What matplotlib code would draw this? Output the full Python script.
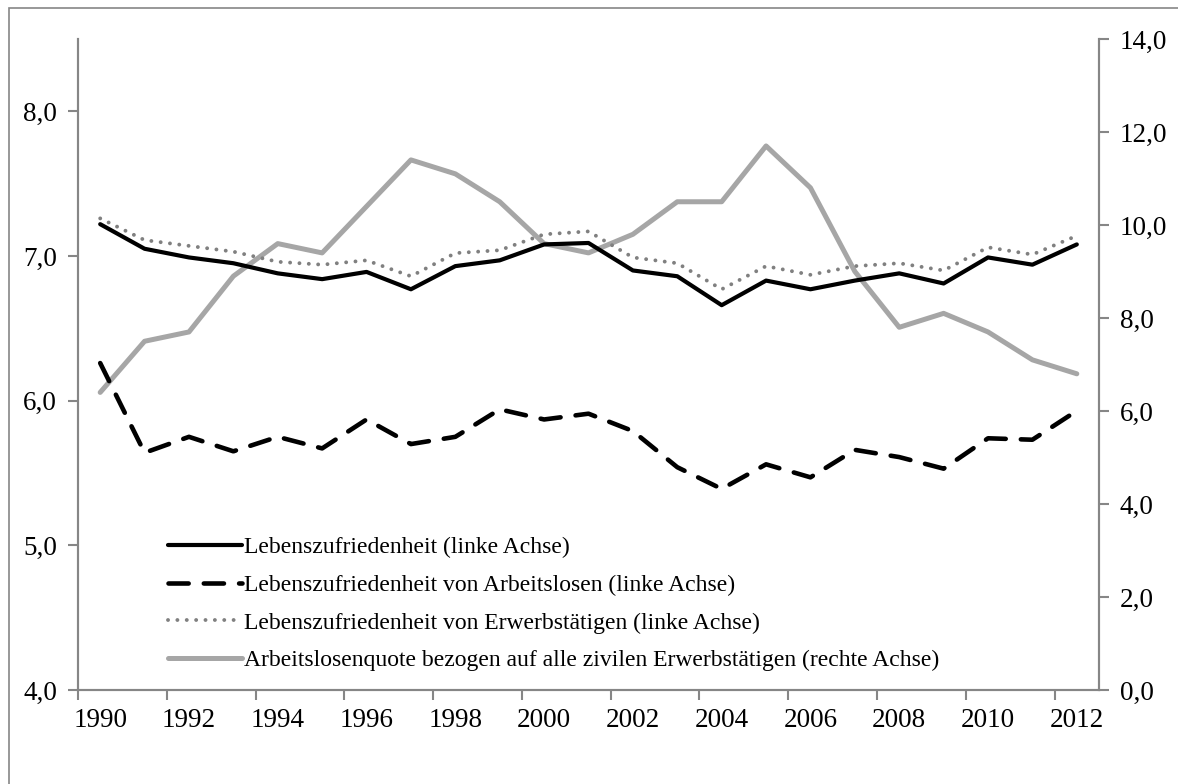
import matplotlib.pyplot as plt
from matplotlib.patches import Rectangle
from matplotlib.ticker import FuncFormatter

plt.rcParams['font.family'] = ['Liberation Serif', 'DejaVu Serif']

# --- Data ---
years = list(range(1990, 2013))

zufriedenheit = [7.22, 7.05, 6.99, 6.95, 6.88, 6.84, 6.89, 6.77, 6.93, 6.97, 7.08, 7.09,
                 6.90, 6.86, 6.66, 6.83, 6.77, 6.83, 6.88, 6.81, 6.99, 6.94, 7.08]
zufr_arbeitslose = [6.26, 5.64, 5.75, 5.65, 5.75, 5.67, 5.87, 5.70, 5.75, 5.94, 5.87, 5.91,
                    5.79, 5.54, 5.39, 5.56, 5.47, 5.66, 5.61, 5.53, 5.74, 5.73, 5.93]
zufr_erwerbstaetige = [7.26, 7.11, 7.07, 7.03, 6.96, 6.94, 6.97, 6.86, 7.02, 7.04, 7.15, 7.17,
                       6.99, 6.95, 6.77, 6.93, 6.87, 6.93, 6.95, 6.90, 7.06, 7.01, 7.14]
quote = [6.4, 7.5, 7.7, 8.9, 9.6, 9.4, 10.4, 11.4, 11.1, 10.5, 9.6, 9.4,
         9.8, 10.5, 10.5, 11.7, 10.8, 9.0, 7.8, 8.1, 7.7, 7.1, 6.8]

labels = ['Lebenszufriedenheit (linke Achse)',
          'Lebenszufriedenheit von Arbeitslosen (linke Achse)',
          'Lebenszufriedenheit von Erwerbstätigen (linke Achse)',
          'Arbeitslosenquote bezogen auf alle zivilen Erwerbstätigen (rechte Achse)']

left_ticks = [4, 5, 6, 7, 8]
right_ticks = [0, 2, 4, 6, 8, 10, 12, 14]

# --- Styling ---
FS = 17
TICK_FS = 19.5
SPINE = '#868686'
LIGHT = '#A6A6A6'
DOTS = '#808080'

fig = plt.figure(figsize=(11.78, 7.84), dpi=100)
fig.patches.append(Rectangle((9 / 1178, -0.1), 1.2, 1 - 8 / 784 + 0.1, transform=fig.transFigure,
                             fill=False, edgecolor=SPINE, linewidth=1.2))

ax = fig.add_axes([78 / 1178, 1 - 690 / 784, 1021 / 1178, 651 / 784])
ax2 = ax.twinx()

x = list(range(len(years)))

l1, = ax.plot(x, zufriedenheit, color='black', lw=3.0, solid_capstyle='round', solid_joinstyle='round')
l2, = ax.plot(x, zufr_arbeitslose, color='black', lw=3.3, dashes=(4.4, 3.3),
              dash_capstyle='round', solid_joinstyle='round')
l3, = ax.plot(x, zufr_erwerbstaetige, color=DOTS, lw=2.8, dashes=(0.01, 2.4),
              dash_capstyle='round')
l4, = ax2.plot(x, quote, color=LIGHT, lw=3.6, solid_capstyle='round', solid_joinstyle='round')

# left-axis series on top
ax.set_zorder(ax2.get_zorder() + 1)
ax.patch.set_visible(False)

ax.set_xlim(-0.5, len(years) - 0.5)
ax.set_ylim(4, 8.5)
ax2.set_ylim(0, 14)

ax.set_yticks(left_ticks)
ax2.set_yticks(right_ticks)
comma = FuncFormatter(lambda v, p: f'{v:.1f}'.replace('.', ','))
ax.yaxis.set_major_formatter(comma)
ax2.yaxis.set_major_formatter(comma)

# tick marks between categories, labels on categories
ax.set_xticks([i - 0.5 for i in range(0, len(years), 2)])
ax.set_xticklabels([])
ax.set_xticks(list(range(0, len(years), 2)), minor=True)
ax.set_xticklabels([str(years[i]) for i in range(0, len(years), 2)], minor=True)
ax.tick_params(axis='x', which='minor', length=0, pad=13, labelsize=TICK_FS)
ax.tick_params(axis='x', which='major', length=7, width=1.5, color=SPINE, direction='out')
ax.tick_params(axis='y', length=7, width=1.5, color=SPINE, labelsize=TICK_FS, pad=8)
ax2.tick_params(axis='y', length=7, width=1.5, color=SPINE, labelsize=TICK_FS, pad=8)

for a in (ax, ax2):
    a.spines['top'].set_visible(False)
    for s in ('left', 'right', 'bottom'):
        a.spines[s].set_color(SPINE)
        a.spines[s].set_linewidth(1.5)

leg = ax.legend([l1, l2, l3, l4], labels, loc='lower left', bbox_to_anchor=(0.07, 0.0),
                frameon=False, fontsize=FS, handlelength=3.1, handletextpad=0.1,
                labelspacing=0.68, borderaxespad=0.4)

fig.savefig('out.png', dpi=100)
